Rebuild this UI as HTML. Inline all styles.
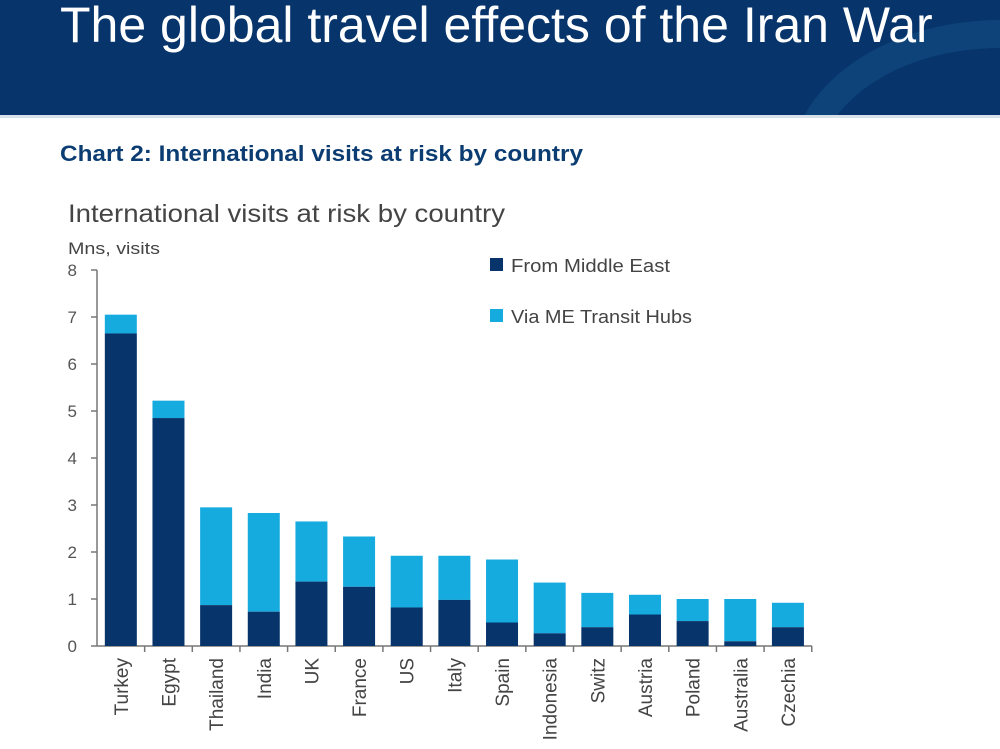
<!DOCTYPE html><html><head><style>
body{margin:0;width:1000px;height:749px;background:#fff;overflow:hidden;font-family:"Liberation Sans",sans-serif;position:relative}
.hdr{position:absolute;left:0;top:0;width:1000px;height:115px;background:#06346b;overflow:hidden}
.hdr h1{position:absolute;left:60px;top:-4px;margin:0;font-weight:normal;color:#fff;font-size:50px;letter-spacing:0px;z-index:2}
</style></head><body>
<div class="hdr"><h1>The global travel effects of the Iran War</h1>
<div style="position:absolute;left:790px;top:20px;width:420px;height:300px;border-radius:50%;border:28px solid #124a80;box-sizing:border-box;opacity:.7"></div></div>
<div style="position:absolute;left:0;top:115px;width:1000px;height:3px;background:#d8e0ea"></div>
<svg width="1000" height="749" style="position:absolute;left:0;top:0" font-family="Liberation Sans, sans-serif">
<text x="60" y="161" font-size="22" font-weight="bold" fill="#0c3d72" textLength="523" lengthAdjust="spacingAndGlyphs">Chart 2: International visits at risk by country</text>
<text x="68" y="222" font-size="25" fill="#444" textLength="437" lengthAdjust="spacingAndGlyphs">International visits at risk by country</text>
<text x="68" y="254" font-size="17" fill="#444" textLength="92" lengthAdjust="spacingAndGlyphs">Mns, visits</text>
<g font-size="17" fill="#555" text-anchor="end">
<text x="77" y="652">0</text><text x="77" y="605">1</text><text x="77" y="558">2</text><text x="77" y="511">3</text><text x="77" y="464">4</text><text x="77" y="417">5</text><text x="77" y="370">6</text><text x="77" y="323">7</text><text x="77" y="276">8</text></g>
<g stroke="#777" stroke-width="1.5">
<line x1="97" y1="270" x2="97" y2="646"/><line x1="97" y1="646" x2="812" y2="646"/>
<line x1="91" y1="646" x2="97" y2="646"/><line x1="91" y1="599" x2="97" y2="599"/><line x1="91" y1="552" x2="97" y2="552"/><line x1="91" y1="505" x2="97" y2="505"/><line x1="91" y1="458" x2="97" y2="458"/><line x1="91" y1="411" x2="97" y2="411"/><line x1="91" y1="364" x2="97" y2="364"/><line x1="91" y1="317" x2="97" y2="317"/><line x1="91" y1="270" x2="97" y2="270"/>
</g>
<g id="bars"></g>
<rect x="490" y="258" width="13" height="13" fill="#06346b"/><text x="511" y="272" font-size="18" fill="#444" textLength="159" lengthAdjust="spacingAndGlyphs">From Middle East</text>
<rect x="490" y="309" width="13" height="13" fill="#16abdf"/><text x="511" y="323" font-size="18" fill="#444" textLength="181" lengthAdjust="spacingAndGlyphs">Via ME Transit Hubs</text>
</svg>
<script>
var d=[["Turkey",6.65,7.05],["Egypt",4.85,5.22],["Thailand",.87,2.95],["India",.73,2.83],["UK",1.37,2.65],["France",1.26,2.33],["US",.82,1.92],["Italy",.98,1.92],["Spain",.5,1.84],["Indonesia",.27,1.35],["Switz",.4,1.13],["Austria",.67,1.09],["Poland",.53,1.0],["Australia",.1,1.0],["Czechia",.4,.92]];
var s="",w=47.65;
d.forEach(function(r,i){var x0=97+i*w,c=x0+w/2,y0=646,k=47;
s+='<rect x="'+(c-16)+'" y="'+(y0-r[2]*k)+'" width="32" height="'+((r[2]-r[1])*k)+'" fill="#16abdf"/>';
s+='<rect x="'+(c-16)+'" y="'+(y0-r[1]*k)+'" width="32" height="'+(r[1]*k)+'" fill="#06346b"/>';
s+='<line x1="'+(x0+w)+'" y1="646" x2="'+(x0+w)+'" y2="652" stroke="#777" stroke-width="1.5"/>';
s+='<text transform="translate('+(c+7)+',658) rotate(-90)" text-anchor="end" font-size="19" fill="#444">'+r[0]+'</text>';});
document.getElementById("bars").innerHTML=s;
</script>
</body></html>
